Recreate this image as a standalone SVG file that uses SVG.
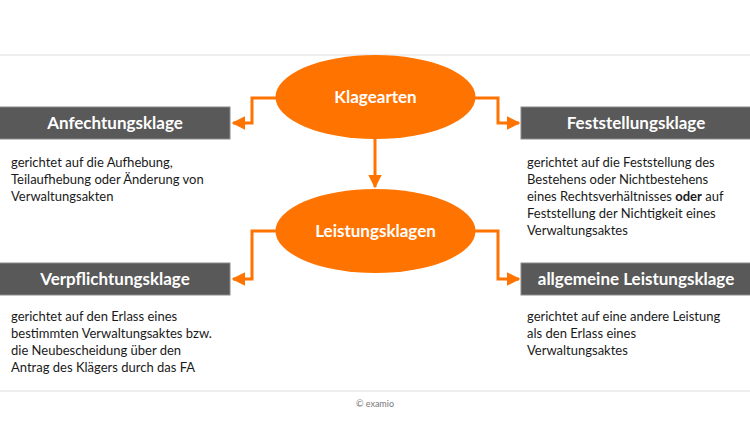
<svg xmlns="http://www.w3.org/2000/svg" width="750" height="422" viewBox="0 0 750 422">
<defs>
<style>
.ell{fill:#FF7300;}
.box{fill:#595959;stroke:#8a8a8a;stroke-width:1;}
.lbl{font-family:Lato,"Open Sans",sans-serif;font-weight:bold;font-size:17px;fill:#ffffff;text-anchor:middle;}
.body{font-family:Lato,"Open Sans",sans-serif;font-size:13px;fill:#1a1a1a;}
.con{fill:none;stroke:#FF7300;stroke-width:3;}
.rule{stroke:#eeeeee;stroke-width:2;}
</style>
<marker id="ah" viewBox="0 0 10 10" refX="9" refY="5" markerWidth="4.5" markerHeight="4.5" orient="auto" markerUnits="strokeWidth">
<path d="M0,0 L10,5 L0,10 z" fill="#FF7300"/>
</marker>
</defs>
<rect x="0" y="0" width="750" height="422" fill="#ffffff"/>
<line class="rule" x1="0" y1="55" x2="750" y2="55"/>
<line class="rule" x1="0" y1="391" x2="750" y2="391"/>

<g id="connectors">
<path class="con" d="M276,98 H252 V123 H233" marker-end="url(#ah)"/>
<path class="con" d="M475,98 H498 V123 H519" marker-end="url(#ah)"/>
<path class="con" d="M375,139 V187" marker-end="url(#ah)"/>
<path class="con" d="M276,231 H252 V279 H233" marker-end="url(#ah)"/>
<path class="con" d="M475,231 H498 V279 H519" marker-end="url(#ah)"/>
</g>

<g id="klagearten">
<ellipse class="ell" cx="375.5" cy="97" rx="100" ry="42"/>
<text class="lbl" x="375.5" y="103">Klagearten</text>
</g>
<g id="leistungsklagen">
<ellipse class="ell" cx="375.5" cy="231" rx="100" ry="42"/>
<text class="lbl" x="375.5" y="237">Leistungsklagen</text>
</g>

<g id="anfechtungsklage">
<rect class="box" x="-1" y="107" width="231" height="32"/>
<text class="lbl" x="115" y="129">Anfechtungsklage</text>
<text class="body" x="11" y="167">gerichtet auf die Aufhebung,</text>
<text class="body" x="11" y="184">Teilaufhebung oder Änderung von</text>
<text class="body" x="11" y="201">Verwaltungsakten</text>
</g>

<g id="feststellungsklage">
<rect class="box" x="521" y="107" width="230" height="32"/>
<text class="lbl" x="636" y="129">Feststellungsklage</text>
<text class="body" x="527" y="167">gerichtet auf die Feststellung des</text>
<text class="body" x="527" y="184">Bestehens oder Nichtbestehens</text>
<text class="body" x="527" y="201">eines Rechtsverhältnisses <tspan font-weight="bold">oder</tspan> auf</text>
<text class="body" x="527" y="218">Feststellung der Nichtigkeit eines</text>
<text class="body" x="527" y="235">Verwaltungsaktes</text>
</g>

<g id="verpflichtungsklage">
<rect class="box" x="-1" y="263" width="231" height="32"/>
<text class="lbl" x="115" y="285">Verpflichtungsklage</text>
<text class="body" x="11" y="321">gerichtet auf den Erlass eines</text>
<text class="body" x="11" y="338">bestimmten Verwaltungsaktes bzw.</text>
<text class="body" x="11" y="355">die Neubescheidung über den</text>
<text class="body" x="11" y="372">Antrag des Klägers durch das FA</text>
</g>

<g id="allgemeine-leistungsklage">
<rect class="box" x="521" y="263" width="230" height="32"/>
<text class="lbl" x="636" y="285">allgemeine Leistungsklage</text>
<text class="body" x="527" y="321">gerichtet auf eine andere Leistung</text>
<text class="body" x="527" y="338">als den Erlass eines</text>
<text class="body" x="527" y="355">Verwaltungsaktes</text>
</g>

<text x="375" y="407" font-family="Lato,'Open Sans',sans-serif" font-size="9px" fill="#777777" text-anchor="middle">© examio</text>
</svg>
